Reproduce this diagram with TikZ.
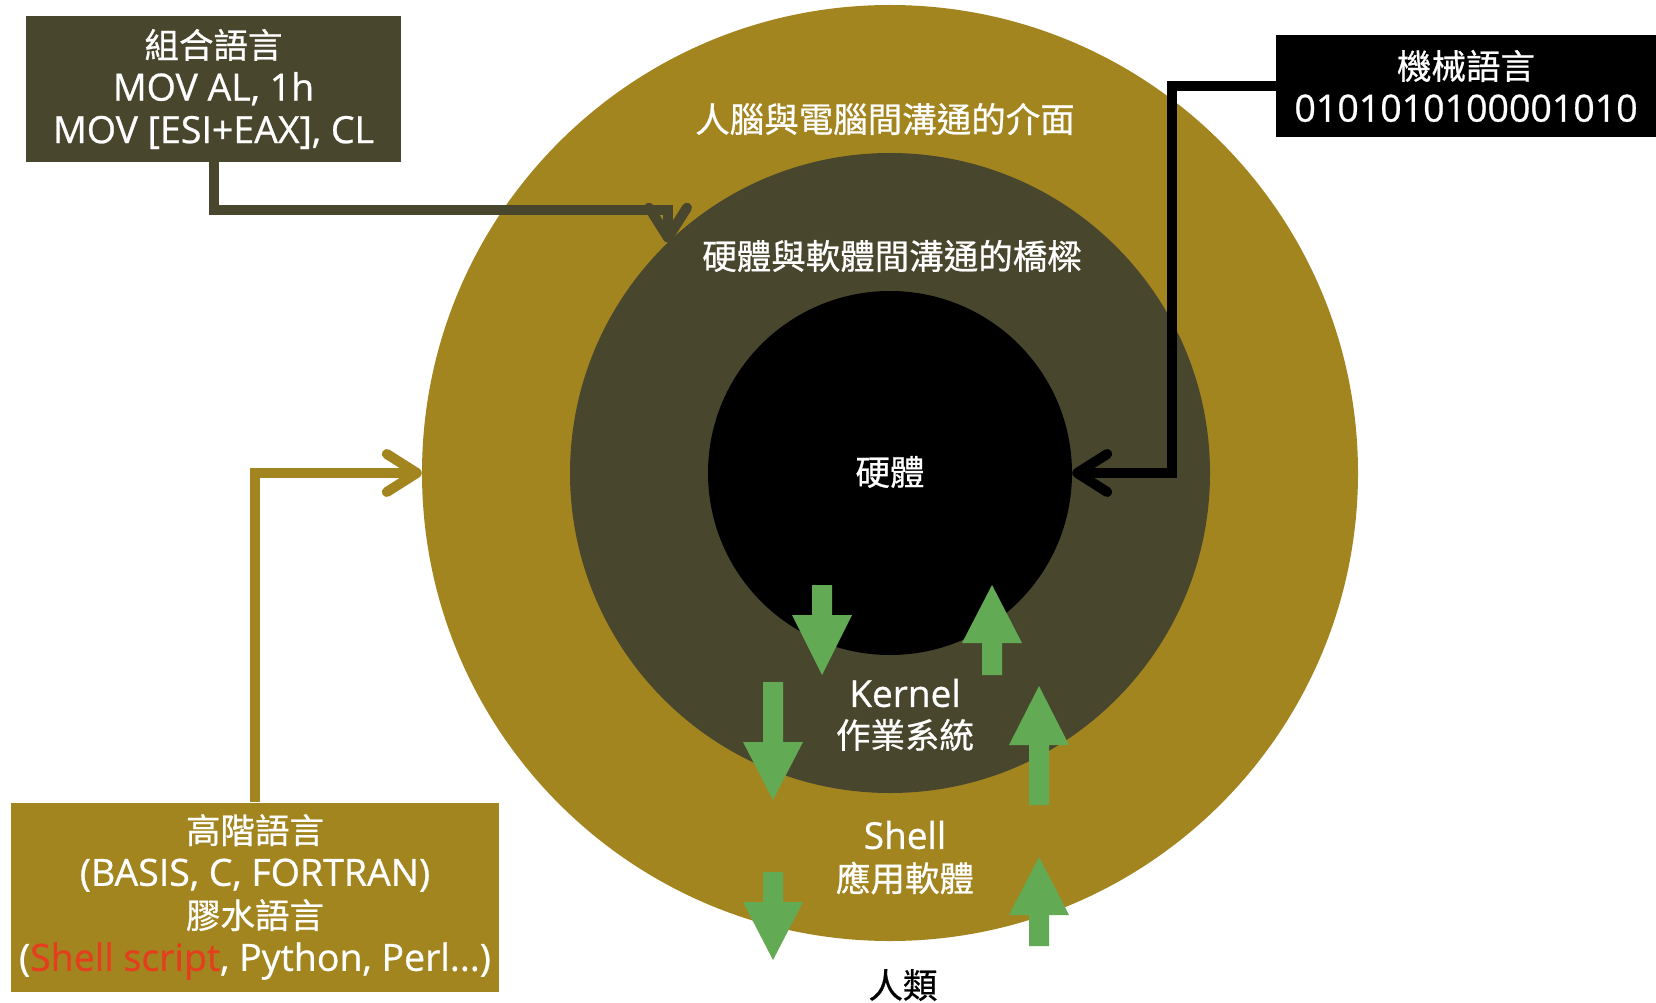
\documentclass[tikz,border=0pt]{standalone}
\usepackage{fontspec}
\setmainfont{Open Sans}[FakeBold=0.7]
\newfontfamily\cjkf{Noto Sans CJK TC}[FakeBold=0.7]
\usetikzlibrary{arrows.meta}
\definecolor{gold}{RGB}{163,133,32}
\definecolor{olivedark}{RGB}{73,70,46}
\definecolor{greenarr}{RGB}{98,170,84}
\definecolor{redtxt}{RGB}{228,62,30}
\newcommand\zh[1]{{\cjkf\fontsize{34.5}{42.5}\selectfont #1}}
\newcommand\blockarrow[4]{\fill[greenarr] ({#1-10},#2) -- ({#1+10},#2) -- ({#1+10},#3) -- ({#1+30},#3) -- (#1,#4) -- ({#1-30},#3) -- ({#1-10},#3) -- cycle;}
\begin{document}
\begin{tikzpicture}[x=1pt,y=-1pt,
  ring/.style={circle, inner sep=0pt, draw=none},
  infobox/.style={inner sep=0pt, text=white, align=center, font=\fontsize{37.5}{42.5}\selectfont},
  lbl/.style={inner sep=0pt, text=white, font=\fontsize{37}{42.5}\selectfont},
  conn/.style={line width=10pt, -{Straight Barb[length=30pt,width=38pt,round]}}
]
\fill[white] (0,0) rectangle (1656,1003);
\useasboundingbox (0,0) rectangle (1656,1003);

% rings
\node[ring, fill=gold, minimum size=936pt] (outer) at (890,473) {};
\node[ring, fill=olivedark, minimum size=640pt] (mid) at (890,473) {};
\node[ring, fill=black, minimum size=364pt] (inner) at (890,473) {};

% ring labels
\node[lbl] (lhuman) at (885,119) {\zh{人腦與電腦間溝通的介面}};
\node[lbl] (lbridge) at (892,256) {\zh{硬體與軟體間溝通的橋樑}};
\node[lbl] (lhw) at (890,472) {\zh{硬體}};
\node[lbl] (lkernel) at (905,693) {Kernel};
\node[lbl] (los) at (905,735) {\zh{作業系統}};
\node[lbl] (lshell) at (905,835) {Shell};
\node[lbl] (lapp) at (905,878) {\zh{應用軟體}};
\node[lbl, text=black] (lpeople) at (903,985) {\zh{人類}};

% boxes
\node[infobox, fill=olivedark, minimum width=375pt, minimum height=146pt] (asm) at (213.5,89)
  {\zh{組合語言}\\MOV AL, 1h\\MOV [ESI+EAX], CL};
\node[infobox, fill=black, minimum width=380pt, minimum height=102pt] (mach) at (1466,86)
  {\zh{機械語言}\\0101010100001010};
\node[infobox, fill=gold, minimum width=488pt, minimum height=189pt] (high) at (255,897)
  {\zh{高階語言}\\(BASIS, C, FORTRAN)\\\zh{膠水語言}\\(\textcolor{redtxt}{Shell script}, Python, Perl...)};

% connectors
\coordinate (k1) at (668,210);
\coordinate (k2) at (1172,86);
\draw[conn, draw=olivedark] (asm.south) |- (k1) -- (k1 |- mid.134);
\draw[conn, draw=black] (mach.west) -- (k2) |- (inner.east);
\draw[conn, draw=gold] (high.north) |- (outer.west);

% green flow arrows
\blockarrow{822}{585}{615}{675}
\blockarrow{992}{675}{643}{585}
\blockarrow{773}{682}{742}{800}
\blockarrow{1039}{805}{745}{686}
\blockarrow{773}{872}{902}{960}
\blockarrow{1039}{946}{915}{857}
\end{tikzpicture}
\end{document}
